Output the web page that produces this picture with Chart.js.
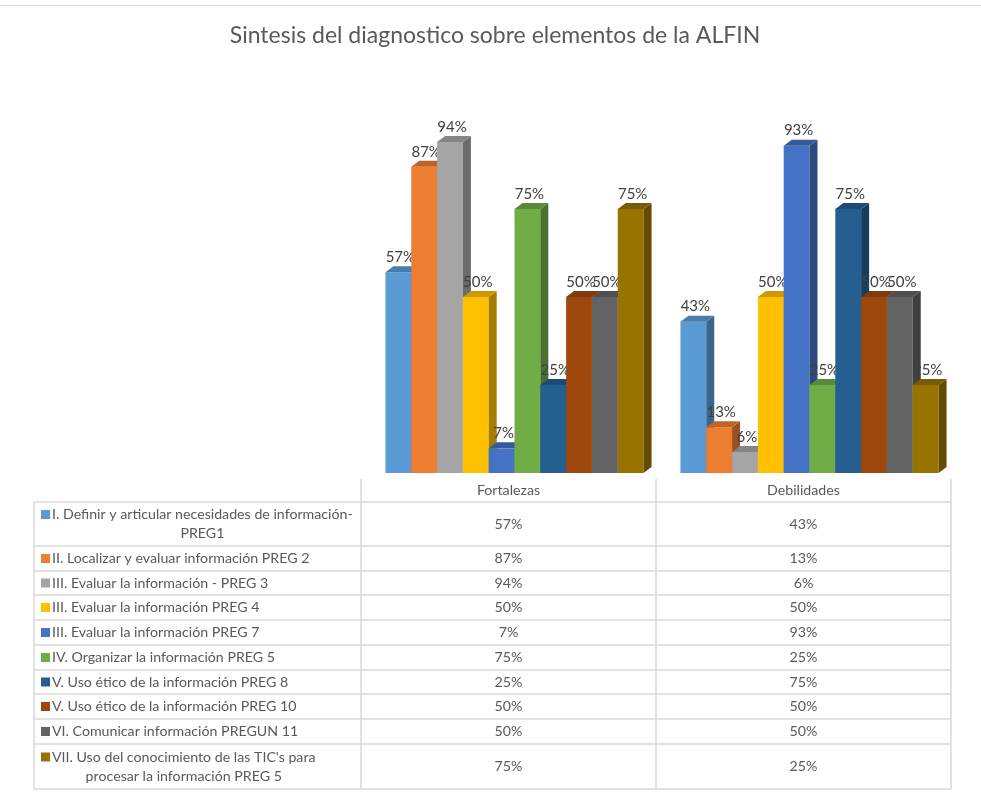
<!DOCTYPE html>
<html>
<head>
<meta charset="utf-8">
<script src="https://cdn.jsdelivr.net/npm/chart.js@4.4.0/dist/chart.umd.min.js"></script>
<style>
    html, body { margin: 0; padding: 0; background: #fff; }
    #wrap { width: 981px; height: 792px; position: relative; }
</style>
</head>
<body>
<div id="wrap"><canvas id="alfinChart"></canvas></div>
<script>
const chartTitle = 'Sintesis del diagnostico sobre elementos de la ALFIN';
const categories = ['Fortalezas', 'Debilidades'];
// '\n' marks where Excel wrapped the legend text inside the table cell
const seriesNames = [
    'I. Definir y articular necesidades de información-\nPREG1',
    'II. Localizar y evaluar información PREG 2',
    'III. Evaluar la información - PREG 3',
    'III. Evaluar la información PREG 4',
    'III. Evaluar la información PREG 7',
    'IV. Organizar la información PREG 5',
    'V. Uso ético de la información PREG 8',
    'V. Uso ético de la información PREG 10',
    'VI. Comunicar información PREGUN 11',
    'VII. Uso del conocimiento de las TIC\'s para\nprocesar la información PREG 5'
];
const fortalezas = [57, 87, 94, 50, 7, 75, 25, 50, 50, 75];
const debilidades = [43, 13, 6, 50, 93, 25, 75, 50, 50, 25];
const seriesColors = ['#5B9BD5', '#ED7D31', '#A5A5A5', '#FFC000', '#4472C4',
                      '#70AD47', '#255E91', '#9E480E', '#636363', '#997300'];

const FONT = 'Lato, "Open Sans", sans-serif';
const DEPTH_X = 8;
const DEPTH_Y = -6;
const PROJ_SHIFT = 6; // Excel's perspective pushes the columns a bit right of the table columns

// shade a hex colour towards black
function shade(hex, f) {
    const n = parseInt(hex.slice(1), 16);
    const r = Math.round(((n >> 16) & 255) * f);
    const g = Math.round(((n >> 8) & 255) * f);
    const b = Math.round((n & 255) * f);
    return 'rgb(' + r + ',' + g + ',' + b + ')';
}

const datasets = seriesNames.map((name, i) => ({
    label: name.replace('\n', ''),
    data: [fortalezas[i], debilidades[i]],
    backgroundColor: seriesColors[i],
    borderWidth: 0,
}));

// Excel-like 3D columns: bars are drawn left to right so that each one
// hides the side face (and label) of its left neighbour
const columns3d = {
    id: 'columns3d',
    beforeDatasetDraw() {
        return false;
    },
    afterDatasetsDraw(chart) {
        const ctx = chart.ctx;
        ctx.save();
        ctx.translate(PROJ_SHIFT, 0);
        chart.data.datasets.forEach((ds, i) => {
            const meta = chart.getDatasetMeta(i);
            meta.data.forEach((bar, j) => {
                const left = bar.x - bar.width / 2;
                const right = bar.x + bar.width / 2;
                const top = bar.y;
                const base = bar.base;
                bar.draw(ctx);

                // side face
                ctx.fillStyle = shade(seriesColors[i], 0.65);
                ctx.beginPath();
                ctx.moveTo(right, top);
                ctx.lineTo(right + DEPTH_X, top + DEPTH_Y);
                ctx.lineTo(right + DEPTH_X, base + DEPTH_Y);
                ctx.lineTo(right, base);
                ctx.closePath();
                ctx.fill();

                // top face
                ctx.fillStyle = shade(seriesColors[i], 0.8);
                ctx.beginPath();
                ctx.moveTo(left, top);
                ctx.lineTo(right, top);
                ctx.lineTo(right + DEPTH_X, top + DEPTH_Y);
                ctx.lineTo(left + DEPTH_X, top + DEPTH_Y);
                ctx.closePath();
                ctx.fill();

                // data label
                ctx.fillStyle = '#404040';
                ctx.font = '15px ' + FONT;
                ctx.textAlign = 'center';
                ctx.textBaseline = 'middle';
                ctx.fillText(ds.data[j] + '%', bar.x + 2, top - 15);
            });
        });
        ctx.restore();
    }
};

// title, frame and the data table under the plot
const dataTable = {
    id: 'dataTable',
    afterDraw(chart) {
        const ctx = chart.ctx;
        const area = chart.chartArea;
        const xScale = chart.scales.x;
        const colW = (area.right - area.left) / categories.length;
        const tableLeft = 34;
        const headTop = 479;
        const rowLines = [502, 546, 571, 595, 620, 645, 670, 694, 719, 744, 789];

        ctx.save();

        // thin frame line at the top
        ctx.strokeStyle = '#d9d9d9';
        ctx.lineWidth = 1;
        ctx.beginPath();
        ctx.moveTo(0, 5.5);
        ctx.lineTo(chart.width, 5.5);
        ctx.stroke();

        ctx.fillStyle = '#595959';
        ctx.font = '23px ' + FONT;
        ctx.textAlign = 'center';
        ctx.textBaseline = 'middle';
        ctx.fillText(chartTitle, 495, 36);

        // grid
        ctx.strokeStyle = '#d9d9d9';
        ctx.lineWidth = 1.5;
        ctx.beginPath();
        rowLines.forEach(y => {
            ctx.moveTo(tableLeft, y);
            ctx.lineTo(area.right, y);
        });
        ctx.moveTo(tableLeft, rowLines[0]);
        ctx.lineTo(tableLeft, rowLines[rowLines.length - 1]);
        for (let c = 0; c <= categories.length; c++) {
            const x = area.left + c * colW;
            ctx.moveTo(x, headTop);
            ctx.lineTo(x, rowLines[rowLines.length - 1]);
        }
        ctx.stroke();

        ctx.font = '14.2px ' + FONT;
        ctx.fillStyle = '#595959';
        ctx.textBaseline = 'middle';
        ctx.textAlign = 'center';
        categories.forEach((cat, c) => {
            ctx.fillText(cat, xScale.getPixelForValue(c), (headTop + rowLines[0]) / 2);
        });

        seriesNames.forEach((name, i) => {
            const rowTop = rowLines[i];
            const rowBot = rowLines[i + 1];
            const mid = (rowTop + rowBot) / 2;
            const lines = name.split('\n');
            const lineH = 19;
            const firstY = mid - (lines.length - 1) * lineH / 2;

            ctx.fillStyle = seriesColors[i];
            ctx.fillRect(41, firstY - 4.5, 9, 9);

            const widths = lines.map(l => ctx.measureText(l).width);
            const blockW = Math.max(...widths);
            ctx.fillStyle = '#595959';
            ctx.textAlign = 'left';
            lines.forEach((l, k) => {
                ctx.fillText(l, 52 + (blockW - widths[k]) / 2, firstY + k * lineH);
            });

            ctx.textAlign = 'center';
            const vals = [fortalezas[i], debilidades[i]];
            vals.forEach((v, c) => {
                ctx.fillText(v + '%', xScale.getPixelForValue(c), mid);
            });
        });

        ctx.restore();
    }
};

const ctx = document.getElementById('alfinChart').getContext('2d');
const alfinChart = new Chart(ctx, {
    type: 'bar',
    data: {
        labels: categories,
        datasets: datasets,
    },
    options: {
        responsive: true,
        maintainAspectRatio: false,
        animation: false,
        layout: {
            padding: { left: 361, right: 30, top: 121, bottom: 319 },
        },
        datasets: {
            bar: {
                categoryPercentage: 0.875,
                barPercentage: 1.0,
            },
        },
        scales: {
            x: { display: false },
            y: { display: false, min: 0, max: 100 },
        },
        plugins: {
            legend: { display: false },
            tooltip: { enabled: false },
            title: { display: false },
        },
    },
    plugins: [columns3d, dataTable],
});
</script>
</body>
</html>
